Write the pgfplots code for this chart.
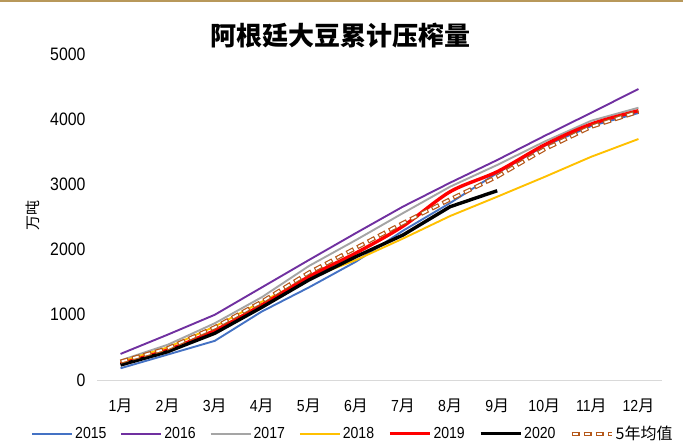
\documentclass[border=0pt]{standalone}
\usepackage{pgfplots}
\pgfplotsset{compat=1.18}
\usepackage{fontspec}
\setmainfont{Liberation Sans}
\newfontfamily\tickfont[FakeStretch=0.88]{Liberation Sans}
\newfontfamily\cjk{Noto Sans CJK SC}
\definecolor{c2015}{HTML}{4472C4}
\definecolor{c2016}{HTML}{7030A0}
\definecolor{c2017}{HTML}{A5A5A5}
\definecolor{c2018}{HTML}{FFC000}
\definecolor{c2019}{HTML}{FF0000}
\definecolor{cavg}{HTML}{B5581A}
\definecolor{gold}{HTML}{B8985A}
\newcommand{\yue}{{\cjk 月}}
\begin{document}
\begin{tikzpicture}
\path[use as bounding box] (0,0) rectangle (683bp,441bp);
\draw[line width=2bp, color=gold] (0,440bp) -- (683bp,440bp);
\node[font=\cjk\bfseries\fontsize{26bp}{28bp}\selectfont] at (340bp,405bp) {阿根廷大豆累计压榨量};
\node[rotate=90, font=\cjk\fontsize{15bp}{16bp}\selectfont] at (33bp,225bp) {万吨};
\begin{axis}[
  at={(97bp,61bp)}, anchor=south west, scale only axis,
  width=565bp, height=326bp,
  xmin=0.5, xmax=12.5, ymin=0, ymax=5000,
  axis x line*=bottom, axis y line*=left,
  x axis line style={draw=black!15, line width=1bp, -},
  y axis line style={draw=none},
  major tick length=0pt,
  xtick={1,...,12},
  xticklabels={1\yue,2\yue,3\yue,4\yue,5\yue,6\yue,7\yue,8\yue,9\yue,10\yue,11\yue,12\yue},
  ytick={0,1000,2000,3000,4000,5000},
  /pgf/number format/1000 sep={},
  /pgf/number format/assume math mode=true,
  yticklabel style={font=\tickfont\fontsize{18bp}{20bp}\selectfont, xshift=-8bp},
  xticklabel style={font=\tickfont\fontsize{16bp}{18bp}\selectfont, yshift=-15bp},
  legend columns=7,
  legend style={draw=none, fill=none, at={(0.453,-0.165)}, anchor=center,
    font=\tickfont\fontsize{16bp}{18bp}\selectfont,
    /tikz/every even column/.append style={column sep=12bp}},
  legend image code/.code={\draw[#1] (0bp,0bp) -- (40bp,0bp);},
  legend cell align=left,
]
\addplot[c2015, line width=1.9bp] coordinates {(1,180) (2,390) (3,600) (4,1050) (5,1420) (6,1815) (7,2290) (8,2715) (9,3175) (10,3590) (11,3896) (12,4095)};
\addlegendentry{2015}
\addplot[c2016, line width=1.9bp] coordinates {(1,400) (2,695) (3,1000) (4,1420) (5,1840) (6,2254) (7,2660) (8,3026) (9,3374) (10,3742) (11,4100) (12,4463)};
\addlegendentry{2016}
\addplot[c2017, line width=1.9bp] coordinates {(1,300) (2,540) (3,870) (4,1270) (5,1748) (6,2147) (7,2560) (8,2965) (9,3298) (10,3655) (11,3977) (12,4176)};
\addlegendentry{2017}
\addplot[c2018, line width=1.9bp] coordinates {(1,280) (2,500) (3,820) (4,1200) (5,1560) (6,1840) (7,2170) (8,2515) (9,2811) (10,3113) (11,3425) (12,3696)};
\addlegendentry{2018}
\addplot[c2019, line width=3.4bp, smooth] coordinates {(1,250) (2,460) (3,760) (4,1150) (5,1585) (6,1948) (7,2360) (8,2888) (9,3195) (10,3604) (11,3926) (12,4130)};
\addlegendentry{2019}
\addplot[black, line width=3.4bp] coordinates {(1,230) (2,434) (3,716) (4,1115) (5,1534) (6,1892) (7,2224) (8,2658) (9,2903)};
\addlegendentry{2020}
\addplot[cavg, line width=4.2bp, dash pattern=on 8bp off 4bp,
  postaction={draw=white, line width=1.8bp, dash pattern=on 0bp off 1.2bp on 5.6bp off 5.2bp}] coordinates {(1,281) (2,486) (3,808) (4,1201) (5,1646) (6,2025) (7,2408) (8,2770) (9,3120) (10,3538) (11,3885) (12,4115)};
\addlegendentry{{\cjk 5年均值}}
\end{axis}
\end{tikzpicture}
\end{document}
